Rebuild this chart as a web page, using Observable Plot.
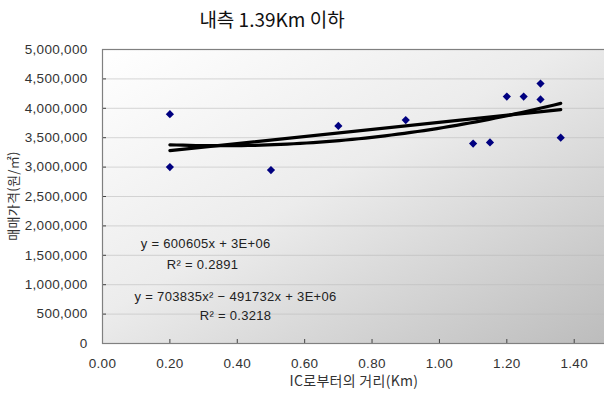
<!DOCTYPE html>
<html>
<head>
<meta charset="utf-8">
<script src="https://cdn.jsdelivr.net/npm/d3@7"></script>
<script src="https://cdn.jsdelivr.net/npm/@observablehq/plot@0.6"></script>
<style>
  html, body { margin: 0; padding: 0; background: #fff; overflow: hidden; }
  #title { width: 544px; height: 36px; line-height: 38px; text-align: center;
           font-family: "Noto Sans CJK KR", "Liberation Sans", sans-serif; font-size: 19px; color: #111; }
  svg { display: block; }
</style>
</head>
<body>
<div id="title">내측 1.39Km 이하</div>
<div id="chart"></div>
<script>
const titleText = "내측 1.39Km 이하";
const xLabel = "IC로부터의 거리(Km)";
const yLabel = "매매가격(원/㎡)";
const distances = [0.20, 0.20, 0.50, 0.70, 0.90, 1.10, 1.15, 1.20, 1.25, 1.30, 1.30, 1.36];
const prices = [3900000, 3000000, 2950000, 3700000, 3800000, 3400000, 3420000, 4200000, 4200000, 4420000, 4150000, 3500000];
const xTicks = [0, 0.2, 0.4, 0.6, 0.8, 1.0, 1.2, 1.4];
const yTicks = [0, 500000, 1000000, 1500000, 2000000, 2500000, 3000000, 3500000, 4000000, 4500000, 5000000];
const eqLabels = ["y = 600605x + 3E+06", "R² = 0.2891", "y = 703835x² − 491732x + 3E+06", "R² = 0.3218"];
const eqX = [0.306, 0.297, 0.395, 0.395];
const eqY = [1700000, 1330000, 800000, 477000];

const points = distances.map((d, i) => ({x: d, y: prices[i]}));

// least squares fits from the data
const n = points.length;
const mx = d3.mean(distances), my = d3.mean(prices);
const sxy = d3.sum(points, p => (p.x - mx) * (p.y - my));
const sxx = d3.sum(points, p => (p.x - mx) ** 2);
const b1 = sxy / sxx, b0 = my - b1 * mx;

function solve3(A, b) {
  const M = A.map((r, i) => [...r, b[i]]);
  for (let c = 0; c < 3; c++) {
    let p = c;
    for (let r = c + 1; r < 3; r++) if (Math.abs(M[r][c]) > Math.abs(M[p][c])) p = r;
    [M[c], M[p]] = [M[p], M[c]];
    for (let r = 0; r < 3; r++) if (r !== c) {
      const f = M[r][c] / M[c][c];
      for (let k = c; k < 4; k++) M[r][k] -= f * M[c][k];
    }
  }
  return M.map((r, i) => r[3] / r[i]);
}
const S = k => d3.sum(distances, x => x ** k);
const T = k => d3.sum(points, p => p.x ** k * p.y);
const [q0, q1, q2] = solve3([[n, S(1), S(2)], [S(1), S(2), S(3)], [S(2), S(3), S(4)]], [T(0), T(1), T(2)]);

const xmin = d3.min(distances), xmax = d3.max(distances);
const samples = d3.range(0, 61).map(i => xmin + (xmax - xmin) * i / 60);
const linFit = [xmin, xmax].map(x => ({x, y: b0 + b1 * x}));
const quadFit = samples.map(x => ({x, y: q0 + q1 * x + q2 * x * x}));

const eqs = eqLabels.map((t, i) => ({t, x: eqX[i], y: eqY[i]}));

const font = "'Liberation Sans', 'Noto Sans CJK KR', sans-serif";

const chart = Plot.plot({
  width: 604,
  height: 358,
  marginTop: 13,
  marginLeft: 102,
  marginRight: -3.4,
  marginBottom: 51,
  style: {fontFamily: font, fontSize: "13px", color: "#222", background: "transparent", letterSpacing: "0.3px"},
  x: {domain: [0, 1.5]},
  y: {domain: [0, 5000000]},
  marks: [
    Plot.frame({fill: "url(#bgGrad)"}),
    Plot.gridY(yTicks, {stroke: "#b8b8b8", strokeOpacity: 0.55}),
    Plot.line(linFit, {x: "x", y: "y", stroke: "#000", strokeWidth: 3.2}),
    Plot.line(quadFit, {x: "x", y: "y", stroke: "#000", strokeWidth: 3.2, curve: "linear"}),
    Plot.dot(points, {x: "x", y: "y", symbol: "diamond2", r: 3.7, fill: "#000080", stroke: "none"}),
    Plot.text(eqs, {x: "x", y: "y", text: "t", fontSize: 13, fill: "#222", textAnchor: "middle"}),
    Plot.axisY(yTicks, {tickSize: -4, tickPadding: 19, tickFormat: d3.format(","), label: null, fontSize: 13.5, fill: "#333", stroke: "#444"}),
    Plot.axisX(xTicks, {tickSize: -4, tickPadding: 19, tickFormat: d3.format(".2f"), label: null, fontSize: 13.5, fill: "#333", stroke: "#444"}),
    Plot.frame({stroke: "#808080", strokeWidth: 1.2})
  ]
});

const svg = d3.select(chart);
const defs = svg.insert("defs", ":first-child");
const grad = defs.append("linearGradient").attr("id", "bgGrad")
  .attr("x1", "0").attr("y1", "0").attr("x2", "1").attr("y2", "1");
grad.append("stop").attr("offset", "0%").attr("stop-color", "#ffffff");
grad.append("stop").attr("offset", "45%").attr("stop-color", "#ececec");
grad.append("stop").attr("offset", "100%").attr("stop-color", "#bcbcbc");

svg.append("text").attr("x", 354).attr("y", 350).attr("text-anchor", "middle")
  .attr("font-size", 14).attr("fill", "#333").attr("font-family", "'Noto Sans CJK KR', sans-serif").text(xLabel);
svg.append("text").attr("transform", "translate(14,160) rotate(-90)").attr("text-anchor", "middle")
  .attr("dominant-baseline", "middle")
  .attr("font-size", 13).attr("fill", "#333").attr("font-family", "'Noto Sans CJK KR', sans-serif").text(yLabel);

document.getElementById("chart").appendChild(chart);
</script>
</body>
</html>
